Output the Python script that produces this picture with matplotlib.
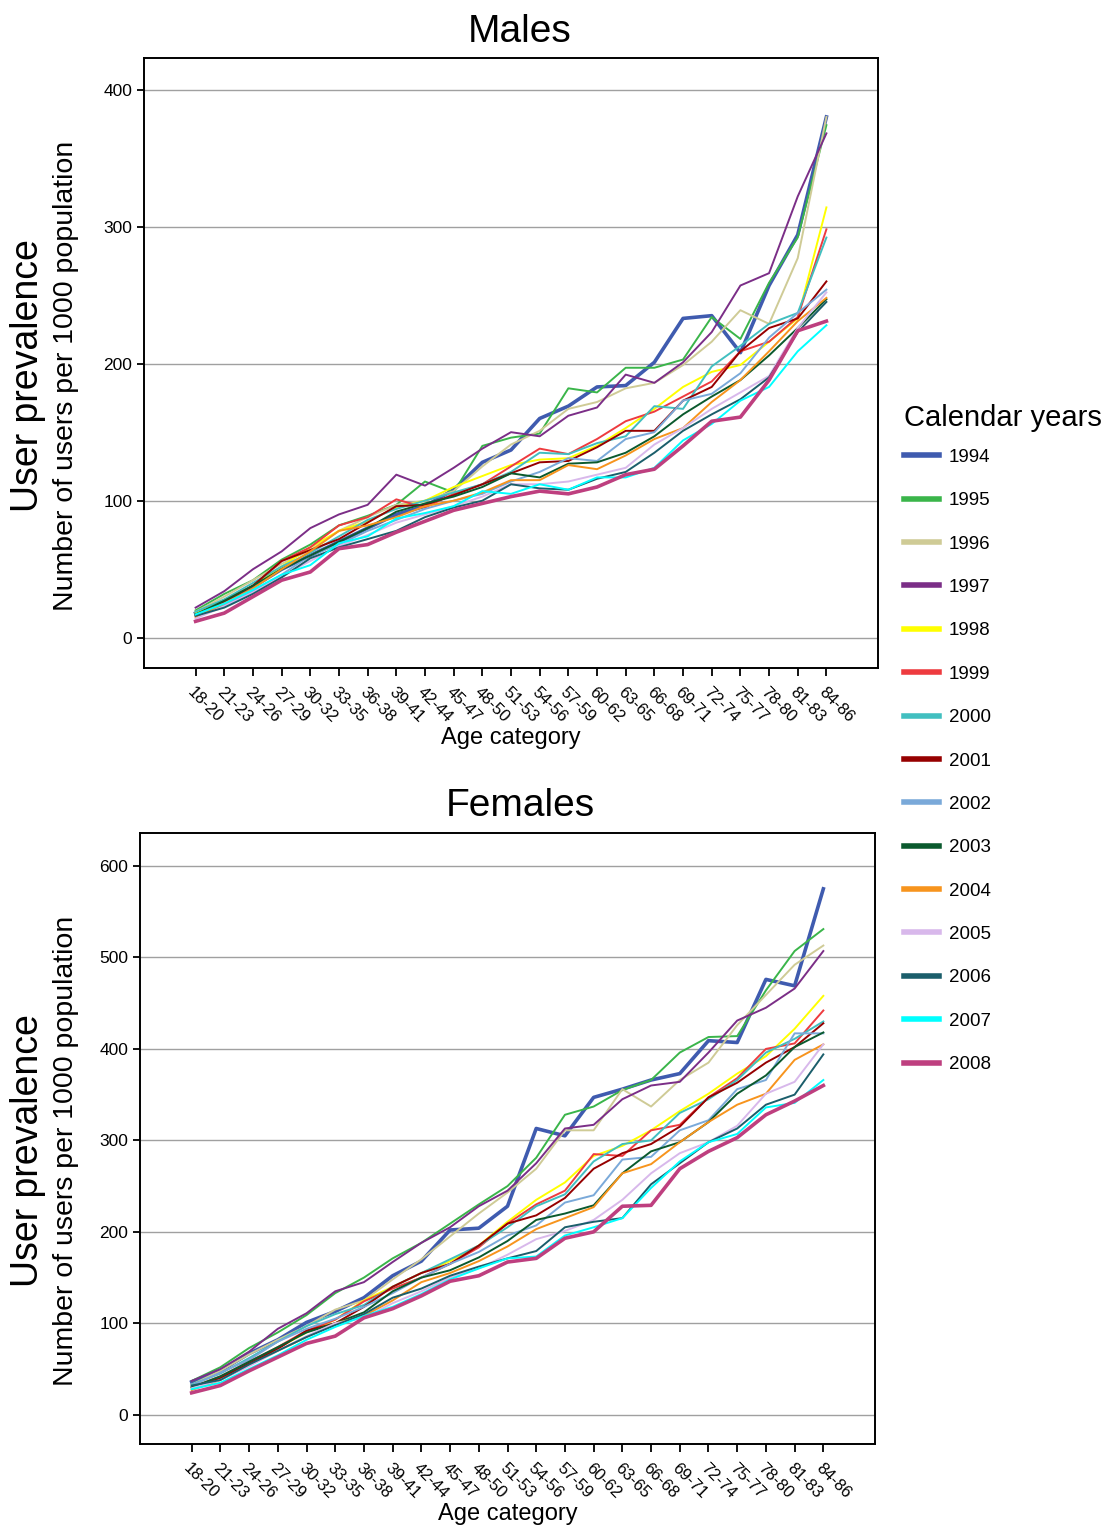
import matplotlib
matplotlib.use("Agg")
import matplotlib.pyplot as plt
from matplotlib.lines import Line2D

plt.rcParams['font.family'] = ['Liberation Sans', 'DejaVu Sans']

ages = ["18-20", "21-23", "24-26", "27-29", "30-32", "33-35", "36-38", "39-41",
        "42-44", "45-47", "48-50", "51-53", "54-56", "57-59", "60-62", "63-65",
        "66-68", "69-71", "72-74", "75-77", "78-80", "81-83", "84-86"]
years = ["1994", "1995", "1996", "1997", "1998", "1999", "2000", "2001",
         "2002", "2003", "2004", "2005", "2006", "2007", "2008"]
colors = ["#3F5BAF", "#3AB54A", "#CFCB96", "#7B2E87", "#FFFF00", "#EE3B3F",
          "#41BFC0", "#960000", "#7AA9D9", "#0B5A2E", "#F7941D", "#D8B8EB",
          "#1B5E6B", "#00FFFF", "#BE3F7F"]

# males, users per 1000
m1994 = [18, 27, 37, 50, 60, 70, 80, 90, 96, 108, 128, 137, 160, 169, 183, 184, 201, 233, 235, 208, 257, 294, 380]
m1995 = [20, 32, 42, 57, 68, 82, 89, 97, 114, 106, 140, 146, 149, 182, 179, 197, 197, 203, 234, 218, 259, 292, 374]
m1996 = [19, 30, 42, 54, 64, 78, 88, 97, 100, 107, 125, 141, 151, 167, 172, 182, 186, 199, 216, 239, 229, 277, 380]
m1997 = [22, 34, 50, 63, 80, 90, 97, 119, 111, 124, 138, 150, 147, 162, 168, 192, 186, 201, 223, 257, 266, 322, 368]
m1998 = [18, 27, 38, 52, 66, 78, 85, 95, 100, 110, 118, 126, 130, 131, 140, 153, 167, 183, 194, 199, 216, 233, 314]
m1999 = [16, 27, 38, 56, 66, 82, 88, 101, 95, 105, 112, 125, 138, 134, 145, 158, 165, 176, 187, 209, 216, 234, 298]
m2000 = [19, 28, 40, 52, 62, 74, 86, 94, 100, 106, 112, 121, 135, 134, 142, 147, 169, 167, 198, 213, 229, 237, 292]
m2001 = [17, 26, 38, 56, 64, 72, 84, 96, 97, 104, 112, 120, 128, 129, 139, 151, 151, 173, 183, 209, 226, 233, 260]
m2002 = [16, 24, 34, 46, 60, 68, 78, 86, 94, 100, 105, 114, 121, 131, 129, 145, 150, 173, 178, 193, 219, 237, 254]
m2003 = [17, 27, 38, 50, 60, 70, 80, 92, 98, 103, 110, 120, 117, 127, 128, 135, 147, 163, 176, 188, 206, 226, 247]
m2004 = [15, 25, 36, 50, 63, 78, 82, 88, 96, 100, 106, 115, 115, 126, 123, 133, 145, 153, 172, 188, 209, 231, 248]
m2005 = [14, 23, 33, 45, 56, 67, 75, 84, 90, 96, 103, 112, 112, 114, 119, 124, 141, 153, 167, 179, 191, 226, 252]
m2006 = [16, 22, 32, 44, 58, 66, 72, 78, 88, 95, 100, 112, 109, 108, 116, 121, 135, 151, 163, 174, 190, 223, 245]
m2007 = [17, 25, 35, 46, 53, 69, 74, 87, 91, 96, 107, 105, 112, 108, 117, 117, 124, 144, 156, 173, 183, 209, 228]
m2008 = [12, 18, 30, 42, 48, 65, 68, 77, 85, 93, 98, 103, 107, 105, 110, 119, 123, 140, 158, 161, 188, 224, 231]

# females, users per 1000
f1994 = [36, 48, 67, 82, 101, 113, 128, 152, 168, 202, 204, 228, 313, 305, 347, 356, 366, 373, 409, 407, 476, 469, 575]
f1995 = [37, 52, 73, 90, 109, 133, 150, 171, 188, 209, 230, 250, 281, 328, 337, 355, 366, 396, 413, 414, 464, 507, 531]
f1996 = [33, 48, 66, 82, 97, 115, 125, 148, 170, 195, 220, 243, 269, 311, 311, 356, 337, 366, 385, 426, 459, 492, 513]
f1997 = [37, 50, 69, 94, 111, 135, 145, 167, 188, 205, 228, 245, 275, 313, 317, 345, 360, 364, 396, 431, 445, 466, 507]
f1998 = [28, 40, 57, 73, 90, 104, 125, 140, 155, 168, 185, 211, 235, 254, 283, 294, 311, 332, 351, 373, 392, 422, 458]
f1999 = [30, 42, 58, 74, 92, 104, 124, 138, 150, 165, 183, 209, 230, 245, 285, 283, 311, 317, 347, 368, 400, 406, 442]
f2000 = [33, 45, 62, 80, 97, 110, 120, 140, 155, 170, 185, 205, 228, 241, 277, 296, 300, 330, 345, 366, 396, 411, 430]
f2001 = [30, 40, 56, 72, 92, 100, 118, 140, 155, 165, 185, 209, 218, 237, 269, 286, 296, 315, 347, 363, 385, 402, 428]
f2002 = [32, 46, 60, 80, 94, 105, 118, 133, 150, 165, 178, 196, 207, 232, 240, 279, 282, 311, 322, 356, 366, 417, 417]
f2003 = [30, 42, 58, 74, 90, 100, 112, 135, 150, 158, 172, 190, 213, 220, 229, 264, 288, 298, 320, 351, 371, 402, 418]
f2004 = [27, 38, 54, 70, 85, 100, 108, 125, 145, 155, 168, 184, 203, 215, 227, 264, 274, 298, 320, 339, 351, 388, 405]
f2005 = [29, 38, 53, 70, 86, 100, 106, 122, 135, 150, 160, 175, 192, 201, 213, 235, 264, 286, 298, 316, 351, 364, 405]
f2006 = [32, 38, 55, 70, 85, 98, 110, 128, 138, 152, 162, 171, 179, 205, 211, 215, 252, 275, 298, 313, 339, 350, 394]
f2007 = [28, 35, 50, 65, 82, 96, 108, 118, 132, 148, 160, 171, 173, 196, 205, 215, 248, 277, 298, 307, 336, 341, 366]
f2008 = [24, 32, 48, 63, 78, 86, 106, 116, 130, 146, 152, 167, 171, 193, 200, 228, 229, 269, 288, 303, 328, 343, 360]

males = [m1994, m1995, m1996, m1997, m1998, m1999, m2000, m2001, m2002, m2003,
         m2004, m2005, m2006, m2007, m2008]
females = [f1994, f1995, f1996, f1997, f1998, f1999, f2000, f2001, f2002, f2003,
           f2004, f2005, f2006, f2007, f2008]

fig = plt.figure(figsize=(11.11, 15.26), dpi=100)
ax_m = fig.add_axes([0.1296, 0.5623, 0.6607, 0.3997])
ax_f = fig.add_axes([0.126, 0.0537, 0.6616, 0.4004])

x = list(range(len(ages)))


def draw(ax, series, yticks, ylim):
    for yr, vals, c in zip(years, series, colors):
        lw = 2.6 if yr in ("1994", "2008") else 1.4
        ax.plot(x, vals, color=c, lw=lw, label=yr)
    ax.set_xlim(-1.8, len(ages) + 0.8)
    ax.set_ylim(*ylim)
    ax.set_yticks(yticks)
    ax.yaxis.grid(True, color="#a0a0a0", lw=1.0)
    ax.set_axisbelow(True)
    ax.set_xticks(x)
    ax.set_xticklabels(ages, rotation=-45, ha="left", va="top",
                       rotation_mode="anchor", fontsize=12)
    ax.tick_params(axis="y", labelsize=12.5, length=5, width=1.3)
    ax.tick_params(axis="x", length=6, width=1.3, pad=6)
    for s in ax.spines.values():
        s.set_linewidth(1.4)
    ax.set_xlabel("Age category", fontsize=17, labelpad=1)


draw(ax_m, males, [0, 100, 200, 300, 400], (-22, 423))
draw(ax_f, females, [0, 100, 200, 300, 400, 500, 600], (-32, 636))

fig.text(0.468, 0.979, "Males", fontsize=28, ha="center", va="center")
fig.text(0.468, 0.472, "Females", fontsize=28, ha="center", va="center")

# y-axis labels (two lines)
for yc in (0.754, 0.246):
    fig.text(0.025, yc, "User prevalence", rotation=90, fontsize=27,
             ha="center", va="center")
    fig.text(0.059, yc, "Number of users per 1000 population", rotation=90,
             fontsize=20.5, ha="center", va="center")

handles = [Line2D([0], [0], color=c, lw=4) for c in colors]
leg = fig.legend(handles, years, loc="upper left", bbox_to_anchor=(0.8, 0.745),
                 frameon=False, title="Calendar years", title_fontsize=21,
                 fontsize=13.5, handlelength=1.9, labelspacing=1.4,
                 handletextpad=0.5, borderpad=0.3)
leg._legend_box.align = "left"
leg._legend_box.sep = 12

fig.savefig("out.png", dpi=100)
